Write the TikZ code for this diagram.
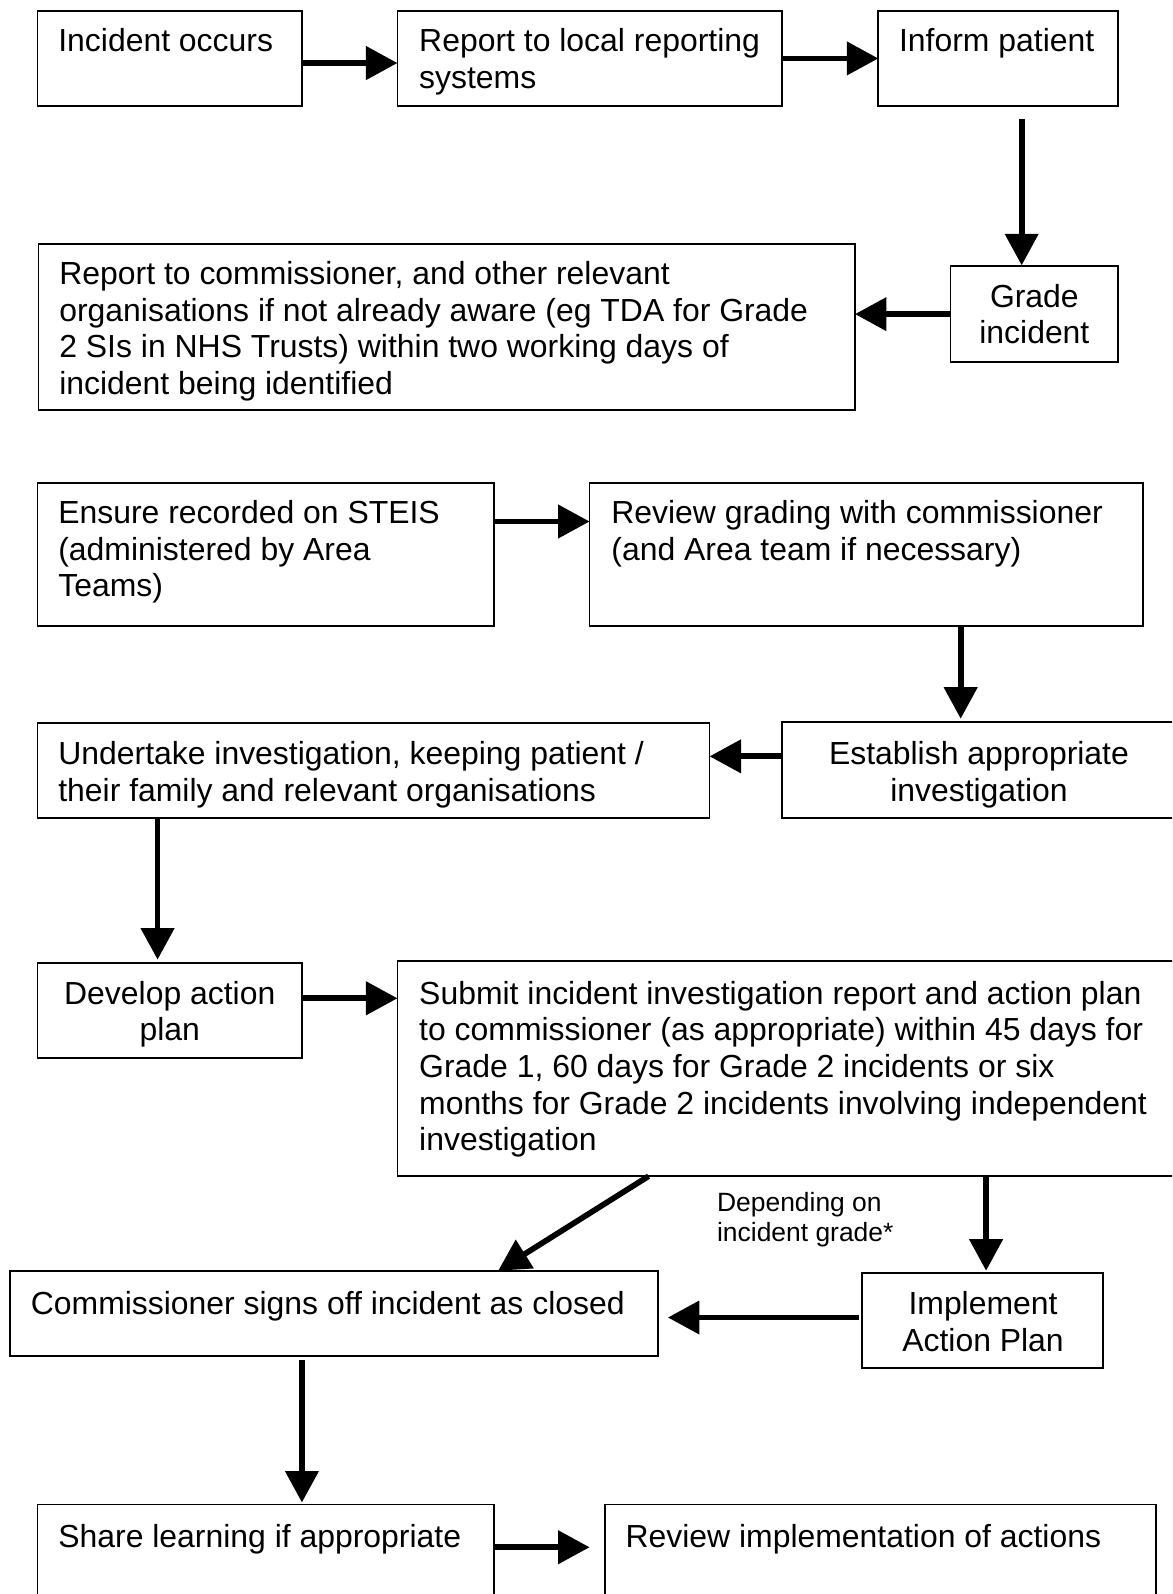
\documentclass[tikz,border=0pt]{standalone}
\usepackage{fontspec}
\setmainfont{Liberation Sans}
\usetikzlibrary{arrows.meta,calc}
\newcommand\bigfs{\fontsize{15.7}{18}\selectfont}
\newcommand\smallfs{\fontsize{13}{14.5}\selectfont}
\newcommand\bx[5]{\node[frame, minimum width={(#4-#2)*0.5pt}, minimum height={(#5-#3)*0.5pt}] (#1) at (#2,#3) {};}
\newcommand\lt[4]{\node[txt] (#1) at (#2,#3) {\parbox[t]{560pt}{\bigfs #4}};}
\newcommand\ct[5]{\node[ctxt] (#1) at (#2,#3) {\parbox[t]{#4pt}{\centering\bigfs #5}};}
\begin{document}
\begin{tikzpicture}[x=0.5pt,y=-0.5pt,
  frame/.style={draw, line width=0.85pt, inner sep=0pt, outer sep=0pt, anchor=north west},
  txt/.style={anchor=base west, inner sep=0pt},
  ctxt/.style={anchor=base, inner sep=0pt},
  arr/.style={line width=2.8pt, -{Triangle[length=15.5pt,width=16pt]}}]
\useasboundingbox (0,0) rectangle (1153,1568);
\fill[white] (0,0) rectangle (1153,1568);
\clip (0,0) rectangle (1153,1568);

% boxes
\bx{b1}{37}{11}{297}{104}
\bx{b2}{391}{11}{769}{104}
\bx{b3}{864}{11}{1100}{104}
\bx{b4}{935}{262}{1100}{356}
\bx{b5}{38}{240}{841}{403}
\bx{b6}{37}{475}{486}{616}
\bx{b7}{580}{475}{1124}{616}
\bx{b8}{769}{710}{1170}{805}
\bx{b9}{37}{711}{698}{805}
\bx{b10}{37}{947}{297}{1041}
\bx{b11}{391}{945}{1170}{1157}
\bx{b12}{10}{1250}{647}{1334}
\bx{b13}{848}{1252}{1085}{1346}
\bx{b14}{37}{1480}{486}{1590}
\bx{b15}{595}{1480}{1137}{1590}

% texts
\lt{t1}{57}{51}{Incident occurs}
\lt{t2}{412}{51}{Report to local reporting\\systems}
\lt{t3}{884}{51}{Inform patient}
\ct{t4}{1017.5}{302}{80}{Grade\\incident}
\lt{t5}{58}{280}{Report to commissioner, and other relevant\\organisations if not already aware (eg TDA for Grade\\2 SIs in NHS Trusts) within two working days of\\incident being identified}
\lt{t6}{57}{515}{Ensure recorded on STEIS\\(administered by Area\\Teams)}
\lt{t7}{601}{515}{Review grading with commissioner\\(and Area team if necessary)}
\ct{t8}{963}{752}{190}{Establish appropriate\\investigation}
\lt{t9}{57}{752}{Undertake investigation, keeping patient /\\their family and relevant organisations}
\ct{t10}{167}{988}{125}{Develop action\\plan}
\lt{t11}{412}{988}{Submit incident investigation report and action plan\\to commissioner (as appropriate) within 45 days for\\Grade 1, 60 days for Grade 2 incidents or six\\months for Grade 2 incidents involving independent\\investigation}
\lt{t12}{30}{1293}{Commissioner signs off incident as closed}
\ct{t13}{967}{1293}{115}{Implement\\Action Plan}
\lt{t14}{57}{1522}{Share learning if appropriate}
\lt{t15}{615}{1522}{Review implementation of actions}
\node[txt] (lbl) at (705,1192) {\parbox[t]{120pt}{\smallfs Depending on\\incident grade*}};

% helper coordinates
\coordinate (x3) at (1005,0);
\coordinate (x7) at (945,0);
\coordinate (x9) at (155,0);
\coordinate (x11a) at (638,0);
\coordinate (x12a) at (490,0);
\coordinate (x11b) at (970,0);
\coordinate (x12) at (297,0);
\coordinate (p1) at ($(b1.north east)+(0,51)$);
\coordinate (p6) at ($(b6.north east)+(0,38)$);
\coordinate (p8) at ($(b8.north west)+(0,34)$);
\coordinate (p10) at ($(b10.north east)+(0,35)$);
\coordinate (p13) at ($(b13.north west)+(-3,44)$);
\coordinate (p14) at ($(b14.north east)+(0,42)$);

% arrows
\draw[arr] (p1) -- (p1 -| b2.west);
\draw[arr] (b2.east) -- (b3.west);
\draw[arr] ($(b3.south -| x3)+(0,13)$) -- ($(b4.north -| x3)+(0,-1)$);
\draw[arr] (b4.west) -- (b4.west -| b5.east);
\draw[arr] (p6) -- (p6 -| b7.west);
\draw[arr] (b7.south -| x7) -- ($(b8.north -| x7)+(0,-3)$);
\draw[arr] (p8) -- (p8 -| b9.east);
\draw[arr] (b9.south -| x9) -- ($(b10.north -| x9)+(0,-3)$);
\draw[arr] (p10) -- (p10 -| b11.west);
\draw[arr] (b11.south -| x11a) -- (b12.north -| x12a);
\draw[arr] (b11.south -| x11b) -- ($(b13.north -| x11b)+(0,-2)$);
\draw[arr] (p13) -- ($(p13 -| b12.east)+(10,0)$);
\draw[arr] ($(b12.south -| x12)+(0,4)$) -- ($(b14.north -| x12)+(0,-2)$);
\draw[arr] (p14) -- ($(p14 -| b15.west)+(-15,0)$);
\end{tikzpicture}
\end{document}
